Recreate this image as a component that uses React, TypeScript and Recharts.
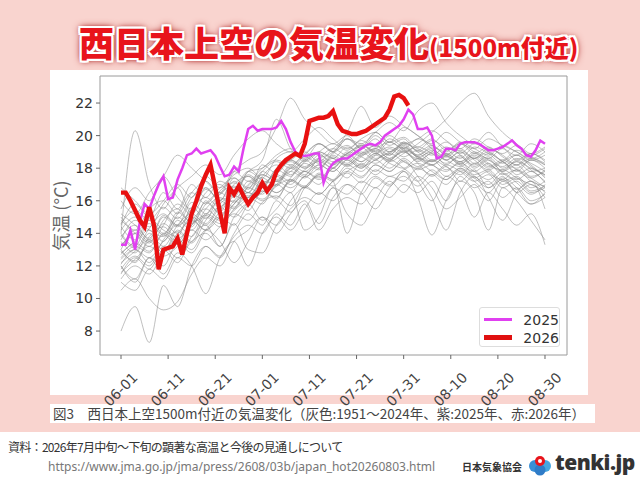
import React from 'react';
import { LineChart, Line, XAxis, YAxis, Legend, ReferenceArea } from 'recharts';

// Day index 0 = 06-01 ... 90 = 08-30
const tickDays = [0, 10, 20, 30, 40, 50, 60, 70, 80, 90];
const tickLabels = ['06-01', '06-11', '06-21', '07-01', '07-11', '07-21', '07-31', '08-10', '08-20', '08-30'];
const yTicks = [8, 10, 12, 14, 16, 18, 20, 22];

// 2025 (purple), daily 06-01 .. 08-30
const temps2025 = [
  13.3, 13.3, 14.2, 13.0, 14.7, 15.8, 15.5, 16.3, 17.0, 17.5,
  16.1, 16.2, 17.3, 18.0, 18.8, 18.9, 19.2, 18.9, 19.0, 19.1,
  18.75, 18.1, 17.5, 17.6, 18.1, 17.8, 19.2, 20.4, 20.6, 20.3,
  20.4, 20.4, 20.4, 20.5, 20.9, 20.4, 19.6, 19.0, 18.8, 18.75,
  18.8, 18.9, 18.9, 17.1, 17.9, 18.3, 18.5, 18.6, 18.6, 18.8,
  19.0, 19.2, 19.4, 19.5, 19.4, 19.6, 20.0, 20.2, 20.4, 20.6,
  21.0, 21.6, 21.3, 20.4, 20.4, 20.5, 20.0, 18.6, 18.7, 19.2,
  19.2, 19.1, 19.5, 19.6, 19.6, 19.6, 19.5, 19.3, 19.1, 19.1,
  19.2, 19.3, 19.5, 19.7, 19.4, 19.2, 18.8, 18.7, 19.1, 19.7,
  19.5,
];

// 2026 (red), daily 06-01 .. 07-31
const temps2026 = [
  16.5, 16.5, 16.0, 15.4, 14.8, 14.4, 15.6, 14.5, 11.8, 13.0,
  13.1, 13.2, 13.7, 12.7, 14.0, 15.2, 16.0, 16.9, 17.6, 18.2,
  16.8, 15.3, 14.0, 16.8, 16.4, 16.9, 16.3, 15.8, 16.2, 16.5,
  17.1, 16.6, 17.0, 17.8, 18.2, 18.5, 18.7, 18.9, 18.75, 19.5,
  20.9, 21.0, 21.1, 21.1, 21.2, 21.5, 20.7, 20.3, 20.2, 20.1,
  20.1, 20.2, 20.3, 20.5, 20.7, 20.9, 21.1, 21.6, 22.4, 22.5,
  22.3, 21.85,
];

// Past years 1951-2024 (grey), read every 3 days (06-01, 06-04, ...)
const grayStep = 3;
const grayLines: number[][] = [
  [14.0, 20.3, 17.0, 15.5, 16.8, 15.2, 16.5, 17.0, 16.2, 17.8, 18.0, 18.8, 19.2, 18.5, 19.0, 18.6, 19.3, 18.9, 19.4, 18.8, 19.6, 19.0, 18.4, 18.8, 18.2, 18.9, 18.3, 17.8, 18.5, 17.9, 17.2],
  [8.0, 9.5, 7.3, 10.8, 9.5, 12.0, 13.2, 12.5, 14.0, 15.2, 14.5, 16.0, 15.3, 16.8, 17.5, 16.9, 17.8, 18.2, 17.6, 18.4, 19.0, 18.3, 17.5, 18.1, 17.2, 17.9, 16.8, 17.5, 16.5, 17.0, 16.2],
  [12.5, 13.2, 12.8, 14.0, 13.5, 14.8, 15.5, 14.9, 16.3, 16.0, 17.2, 17.0, 18.1, 17.6, 18.5, 18.0, 18.9, 18.4, 19.1, 18.6, 19.3, 18.7, 19.0, 18.2, 18.8, 18.1, 18.6, 17.8, 18.2, 17.5, 17.8],
  [15.0, 14.2, 15.5, 16.0, 15.2, 16.5, 17.2, 16.4, 17.8, 18.5, 19.0, 20.5, 22.3, 21.0, 20.2, 19.5, 20.0, 19.2, 19.8, 19.0, 19.5, 18.8, 19.2, 18.5, 19.0, 18.3, 18.7, 18.0, 18.4, 17.8, 18.0],
  [11.5, 12.5, 11.8, 13.0, 12.2, 13.8, 14.5, 13.2, 15.0, 15.8, 14.8, 15.5, 16.5, 14.2, 15.0, 16.8, 15.2, 14.5, 16.0, 17.2, 16.5, 17.5, 16.8, 15.5, 16.2, 17.0, 16.0, 17.2, 16.5, 15.8, 16.5],
  [13.8, 14.5, 13.6, 15.0, 14.4, 15.5, 16.2, 15.6, 17.0, 17.5, 16.8, 18.0, 18.5, 19.0, 18.4, 19.2, 19.8, 19.5, 20.2, 20.8, 20.3, 21.5, 22.0, 20.8, 20.0, 19.5, 20.2, 19.3, 18.8, 19.5, 19.0],
  [14.5, 15.8, 15.0, 16.5, 15.5, 17.0, 16.2, 17.2, 16.8, 17.8, 18.5, 21.0, 19.2, 18.6, 19.5, 19.0, 19.8, 19.2, 20.0, 19.4, 19.8, 19.0, 19.4, 18.8, 19.5, 19.0, 18.6, 19.2, 18.5, 18.9, 18.4],
  [12.0, 11.2, 12.5, 12.0, 13.4, 12.8, 14.2, 15.0, 14.5, 15.8, 16.5, 17.2, 16.8, 17.5, 18.2, 17.8, 18.5, 18.0, 18.8, 18.3, 18.0, 18.6, 18.2, 17.8, 18.4, 17.6, 17.9, 17.2, 17.5, 16.8, 17.2],
  [13.0, 12.2, 13.5, 12.8, 14.2, 13.5, 15.0, 14.4, 15.5, 16.2, 15.8, 17.0, 16.5, 17.5, 17.0, 18.0, 17.4, 18.3, 17.8, 18.5, 18.0, 17.2, 16.0, 17.5, 16.8, 15.0, 16.5, 15.5, 14.5, 15.2, 13.3],
  [15.5, 16.8, 16.0, 17.5, 16.2, 15.5, 16.8, 16.0, 17.2, 16.5, 17.8, 18.4, 18.0, 18.8, 19.5, 19.0, 18.6, 19.4, 19.0, 19.8, 19.2, 18.5, 19.0, 19.6, 18.8, 18.2, 18.9, 18.4, 17.8, 18.5, 18.0],
  [11.0, 10.5, 11.8, 11.2, 12.5, 12.0, 13.2, 12.6, 13.8, 14.5, 14.0, 15.2, 14.5, 15.8, 14.2, 15.5, 16.2, 15.8, 16.8, 16.2, 17.0, 16.5, 17.2, 16.0, 17.5, 16.8, 17.2, 16.2, 16.8, 16.0, 16.4],
  [14.0, 13.2, 14.8, 14.0, 15.2, 16.5, 15.8, 16.8, 17.4, 16.8, 17.6, 17.2, 18.2, 17.8, 18.6, 19.2, 18.8, 19.5, 18.9, 19.6, 19.2, 19.8, 19.4, 19.0, 19.6, 19.2, 18.8, 19.4, 19.0, 18.6, 19.0],
  [13.2, 14.0, 13.4, 14.6, 14.0, 15.0, 14.5, 15.6, 16.0, 15.4, 16.6, 16.2, 17.2, 16.8, 17.6, 17.2, 18.0, 17.5, 18.2, 17.8, 18.5, 17.5, 16.2, 14.2, 16.5, 17.5, 16.2, 14.8, 16.5, 17.2, 15.5],
  [12.8, 13.5, 14.2, 13.5, 14.8, 14.2, 15.5, 16.2, 15.6, 16.8, 16.4, 17.5, 17.0, 17.8, 17.4, 18.2, 18.8, 18.4, 18.9, 18.5, 19.2, 18.7, 18.4, 18.9, 18.4, 18.8, 18.2, 17.9, 18.4, 18.0, 17.6],
  [16.0, 15.2, 16.5, 17.5, 18.8, 18.0, 17.2, 16.5, 17.8, 17.2, 18.0, 18.5, 18.2, 18.9, 19.5, 19.0, 19.8, 19.3, 20.2, 19.6, 20.5, 20.0, 19.5, 20.2, 19.6, 19.2, 19.8, 19.4, 19.0, 18.5, 18.8],
  [13.5, 12.8, 14.0, 13.2, 14.5, 15.2, 14.6, 15.8, 16.5, 17.5, 17.0, 17.8, 18.4, 18.0, 18.6, 19.0, 20.2, 21.8, 20.5, 21.2, 20.6, 20.0, 19.2, 18.5, 19.0, 18.6, 19.2, 18.8, 18.2, 18.6, 18.2],
  [10.5, 11.2, 10.0, 9.3, 9.8, 11.5, 12.5, 12.0, 13.5, 14.2, 15.0, 14.5, 16.0, 16.8, 16.4, 17.2, 17.8, 17.4, 18.2, 17.8, 18.4, 17.9, 18.2, 17.5, 18.0, 17.4, 17.8, 17.0, 17.4, 16.6, 16.9],
  [14.8, 14.0, 13.2, 14.5, 15.8, 15.0, 14.2, 15.4, 16.6, 17.8, 17.2, 16.5, 17.4, 18.5, 18.0, 18.7, 18.2, 18.9, 19.4, 19.0, 19.6, 19.1, 19.7, 19.2, 18.6, 19.3, 18.9, 18.3, 18.8, 18.2, 17.5],
  [12.2, 12.9, 13.6, 13.0, 14.0, 14.8, 14.2, 15.0, 15.8, 16.5, 16.0, 17.0, 17.8, 17.4, 18.2, 17.8, 18.5, 18.0, 18.8, 19.3, 19.0, 19.5, 20.2, 21.0, 22.0, 22.6, 21.2, 20.2, 19.5, 18.8, 19.2],
  [11.8, 12.6, 12.0, 13.2, 12.5, 13.5, 14.0, 13.2, 14.6, 13.0, 12.8, 14.5, 15.5, 16.2, 15.8, 16.8, 16.4, 17.2, 16.8, 17.5, 17.2, 18.0, 17.6, 18.2, 17.8, 17.2, 17.6, 16.8, 17.2, 16.5, 16.8],
  [13.6, 14.8, 14.2, 13.8, 15.0, 14.4, 16.0, 15.2, 16.0, 17.0, 17.6, 17.2, 17.8, 18.5, 19.0, 18.6, 18.2, 18.8, 19.2, 18.8, 19.5, 19.2, 18.8, 19.3, 18.9, 19.5, 19.0, 18.5, 19.1, 18.7, 18.3],
  [12.4, 13.0, 12.2, 13.6, 14.5, 13.8, 15.2, 14.8, 15.4, 16.2, 17.0, 16.5, 17.2, 17.8, 17.3, 18.0, 18.6, 18.1, 18.5, 18.9, 18.4, 18.0, 18.5, 18.1, 17.6, 18.3, 17.7, 17.3, 17.9, 17.4, 16.8],
  [12.0, 11.0, 12.5, 11.5, 12.8, 12.0, 10.3, 12.5, 13.5, 12.0, 14.0, 15.0, 14.2, 15.5, 16.5, 16.0, 17.0, 16.5, 15.5, 16.8, 17.5, 16.9, 17.6, 17.0, 17.8, 17.2, 16.5, 17.4, 16.8, 15.8, 16.2],
  [11.2, 12.0, 11.5, 12.8, 13.6, 13.0, 14.2, 13.5, 12.2, 13.5, 15.0, 14.0, 15.2, 16.0, 14.6, 16.2, 17.0, 16.4, 17.4, 16.9, 17.8, 17.2, 17.9, 17.3, 18.0, 17.5, 17.0, 17.7, 17.1, 16.4, 17.0],
  [14.2, 15.0, 14.4, 15.8, 16.8, 17.5, 18.2, 17.6, 18.8, 19.8, 20.3, 19.5, 19.0, 19.8, 20.5, 19.8, 19.2, 19.8, 20.2, 19.6, 19.9, 19.3, 19.8, 19.1, 19.5, 18.9, 19.3, 18.7, 18.2, 18.9, 18.5],
  [13.0, 14.2, 13.5, 14.8, 15.5, 14.6, 15.8, 16.5, 15.9, 17.2, 16.8, 17.9, 17.5, 18.3, 17.9, 18.8, 18.3, 19.0, 18.5, 19.2, 18.7, 19.1, 18.5, 18.9, 18.3, 18.7, 18.1, 18.5, 17.9, 17.4, 17.9],
  [14.4, 13.6, 14.9, 14.2, 13.8, 15.6, 14.9, 16.4, 16.9, 16.2, 17.5, 18.2, 17.6, 18.4, 18.9, 18.2, 18.9, 19.3, 18.6, 19.0, 19.4, 18.6, 18.2, 18.8, 19.1, 18.5, 17.9, 18.4, 18.8, 18.1, 17.6],
  [12.9, 12.3, 13.8, 14.4, 13.7, 14.5, 15.9, 15.3, 16.7, 16.3, 16.9, 17.6, 17.2, 17.9, 18.4, 18.0, 18.7, 18.2, 18.9, 18.4, 18.9, 19.3, 18.9, 18.3, 18.7, 18.0, 18.5, 17.7, 17.3, 17.8, 17.1],
  [15.2, 14.5, 13.7, 15.1, 14.5, 15.9, 15.2, 16.6, 17.1, 16.5, 17.8, 17.3, 18.0, 18.7, 18.3, 18.9, 19.4, 18.8, 19.2, 19.6, 19.1, 18.6, 19.1, 18.7, 19.2, 18.6, 19.0, 18.4, 18.0, 18.5, 18.2],
  [13.3, 14.0, 14.6, 13.9, 15.3, 14.7, 15.1, 16.0, 15.5, 16.9, 17.4, 16.9, 18.0, 17.5, 18.0, 18.6, 18.1, 18.7, 19.2, 18.6, 19.0, 18.4, 18.9, 18.5, 18.1, 18.6, 18.0, 18.4, 17.6, 18.0, 17.4],
  [12.1, 13.0, 12.5, 13.5, 14.1, 13.4, 14.8, 15.6, 15.0, 15.9, 16.6, 16.1, 17.3, 16.9, 17.7, 17.3, 18.2, 17.8, 18.5, 18.0, 18.6, 18.1, 18.5, 17.9, 18.3, 17.8, 17.3, 17.9, 17.4, 17.0, 16.6],
  [16.8, 16.0, 15.2, 16.0, 17.0, 16.2, 17.5, 16.8, 17.6, 18.0, 17.4, 18.6, 19.0, 18.4, 19.0, 19.5, 19.1, 19.7, 19.3, 20.0, 19.5, 19.8, 20.3, 19.7, 19.2, 19.8, 19.3, 18.9, 19.4, 18.9, 19.3],
  [11.6, 12.4, 13.2, 12.6, 13.2, 14.2, 13.6, 14.4, 15.2, 14.8, 15.9, 16.3, 15.7, 16.9, 16.4, 17.2, 17.7, 17.1, 17.9, 17.5, 17.9, 18.3, 17.8, 17.3, 17.9, 17.4, 16.8, 17.3, 16.7, 17.2, 16.5],
  [13.9, 13.1, 14.3, 15.2, 14.5, 15.3, 16.7, 16.1, 16.4, 17.6, 17.1, 17.8, 18.5, 18.1, 18.6, 18.2, 19.0, 18.7, 18.3, 18.9, 19.3, 18.8, 19.3, 18.8, 18.4, 19.0, 18.5, 18.1, 18.6, 18.3, 17.8],
  [14.6, 15.4, 14.8, 15.6, 14.9, 16.2, 16.8, 16.0, 17.4, 16.7, 18.2, 17.7, 18.5, 18.0, 18.8, 18.4, 18.9, 19.4, 19.0, 18.5, 19.1, 18.7, 18.2, 18.7, 18.2, 17.8, 18.3, 17.6, 17.9, 17.2, 16.9],
  [12.7, 13.4, 12.9, 13.9, 13.3, 14.5, 15.1, 14.6, 15.8, 16.5, 16.1, 16.9, 17.3, 16.8, 17.6, 17.2, 14.0, 16.5, 17.5, 17.0, 17.8, 16.2, 13.9, 16.0, 17.2, 16.5, 14.2, 16.8, 16.0, 14.8, 13.6],
];

const dayCount = temps2025.length;
const tableRows = Array.from({ length: dayCount }, (_, d) => {
  const row: Record<string, number | null> = { day: d, y2025: temps2025[d], y2026: d < temps2026.length ? temps2026[d] : null };
  grayLines.forEach((g, i) => {
    row['g' + i] = d % grayStep === 0 && d / grayStep < g.length ? g[d / grayStep] : null;
  });
  return row;
});

const XTick = (props: any) => {
  const { x, y, payload } = props;
  const idx = tickDays.indexOf(payload.value);
  return (
    <g transform={`translate(${x + 14},${y + 14})`}>
      <text x={0} y={0} dy="0.35em" textAnchor="end" transform="rotate(-45)" fontSize={14} fill="#444" fontFamily="DejaVu Sans">
        {idx >= 0 ? tickLabels[idx] : ''}
      </text>
    </g>
  );
};

const LegendBox = () => (
  <div style={{ background: '#fff', border: '1px solid #ddd', borderRadius: 3, width: 81, height: 40, boxSizing: 'border-box', padding: '3px 0 0 4px', fontFamily: 'DejaVu Sans', fontSize: 14, color: '#333' }}>
    <div style={{ display: 'flex', alignItems: 'center', height: 17 }}>
      <div style={{ width: 29, height: 2.5, background: '#e040f0', marginRight: 11 }} />
      <span>2025</span>
    </div>
    <div style={{ display: 'flex', alignItems: 'center', height: 19 }}>
      <div style={{ width: 29, height: 4.5, background: '#e01010', marginRight: 11 }} />
      <span>2026</span>
    </div>
  </div>
);

const pink = '#f9d4cf';

export default function App() {
  return (
    <div style={{ position: 'absolute', left: 0, top: 0, width: 640, height: 480, background: pink, overflow: 'hidden', fontFamily: '"Noto Sans CJK JP", sans-serif' }}>
      {/* title */}
      <div style={{ position: 'absolute', left: 79, top: 23, whiteSpace: 'nowrap', fontWeight: 900, color: '#e8141b', lineHeight: '38px',
        textShadow: '-2px -2px 0 #fff, 2px -2px 0 #fff, -2px 2px 0 #fff, 2px 2px 0 #fff, 0 2px 0 #fff, 0 -2px 0 #fff, 2px 0 0 #fff, -2px 0 0 #fff, 0 0 5px #a00000, 0 0 8px #a00000' }}>
        <span style={{ fontSize: 35 }}>西日本上空の気温変化</span>
        <span style={{ fontSize: 24 }}>(1500m付近)</span>
      </div>
      {/* white card */}
      <div style={{ position: 'absolute', left: 50, top: 70, width: 538, height: 325, background: '#fff' }} />
      {/* caption */}
      <div style={{ position: 'absolute', left: 50, top: 404, width: 545, height: 19, background: '#fff', color: '#444', fontSize: 13.5, lineHeight: '19px', paddingLeft: 3, boxSizing: 'border-box', whiteSpace: 'nowrap' }}>
        図3　西日本上空1500m付近の気温変化（灰色:1951～2024年、紫:2025年、赤:2026年）
      </div>
      {/* footer */}
      <div style={{ position: 'absolute', left: 0, top: 432, width: 640, height: 48, background: '#fff' }}>
        <div style={{ position: 'absolute', left: 8, top: 6, fontSize: 12, letterSpacing: -0.7, color: '#333', whiteSpace: 'nowrap' }}>資料：2026年7月中旬～下旬の顕著な高温と今後の見通しについて</div>
        <div style={{ position: 'absolute', left: 48, top: 26, fontSize: 12, color: '#777', whiteSpace: 'nowrap', fontFamily: '"Noto Sans", sans-serif' }}>https://www.jma.go.jp/jma/press/2608/03b/japan_hot20260803.html</div>
        <div style={{ position: 'absolute', left: 462, top: 27, fontSize: 10, color: '#333', fontWeight: 700, whiteSpace: 'nowrap' }}>日本気象協会</div>
        <svg style={{ position: 'absolute', left: 528, top: 22 }} width={24} height={22} viewBox="0 0 24 22">
          <circle cx={7} cy={12} r={6} fill="#3a8fd6" />
          <circle cx={17} cy={12} r={6} fill="#46a6e0" />
          <circle cx={12} cy={16} r={5.5} fill="#2f7cc8" />
          <circle cx={12} cy={7} r={5} fill="#e8141b" />
          <circle cx={12} cy={7} r={2} fill="#fff" />
        </svg>
        <div style={{ position: 'absolute', left: 555, top: 16, fontSize: 21, color: '#333', fontWeight: 800, whiteSpace: 'nowrap', fontFamily: '"Open Sans", sans-serif', letterSpacing: -0.5 }}>tenki.jp</div>
      </div>
      {/* chart */}
      <div style={{ position: 'absolute', left: 0, top: 0 }}>
        <LineChart width={640} height={480} data={tableRows} margin={{ top: 76, right: 73, bottom: 85, left: 55 }}>
          <XAxis type="number" dataKey="day" domain={[-4.46, 94.67]} ticks={tickDays} allowDataOverflow height={40}
            axisLine={false} tickLine={{ stroke: '#666' }} tickSize={4} tick={<XTick />} interval={0} />
          <YAxis type="number" domain={[6.53, 23.66]} ticks={yTicks} allowDataOverflow width={45}
            axisLine={false} tickLine={{ stroke: '#666' }} tickSize={4} tickMargin={3}
            tick={{ fontSize: 14, fill: '#333', fontFamily: 'DejaVu Sans' }}
            label={{ value: '気温 (°C)', angle: -90, position: 'insideLeft', offset: 7, style: { fontSize: 18, fill: '#666', fontFamily: '"Noto Sans CJK JP"', textAnchor: 'middle' } }} />
          <ReferenceArea x1={-4.46} x2={94.67} y1={6.53} y2={23.66} fill="none" fillOpacity={0} stroke="#9a9a9a" strokeWidth={1} ifOverflow="visible" />
          {grayLines.map((_, i) => (
            <Line key={'g' + i} dataKey={'g' + i} type="monotone" stroke="#888888" strokeOpacity={0.6} strokeWidth={0.9} dot={false} connectNulls isAnimationActive={false} legendType="none" />
          ))}
          <Line dataKey="y2025" name="2025" type="linear" stroke="#e040f0" strokeWidth={2.5} dot={false} isAnimationActive={false} />
          <Line dataKey="y2026" name="2026" type="linear" stroke="#e81010" strokeWidth={4.4} dot={false} isAnimationActive={false} />
          <Legend layout="vertical" align="center" verticalAlign="middle" content={<LegendBox />}
            wrapperStyle={{ position: 'absolute', left: 479, top: 307, width: 81, height: 40 }} />
        </LineChart>
      </div>
    </div>
  );
}
